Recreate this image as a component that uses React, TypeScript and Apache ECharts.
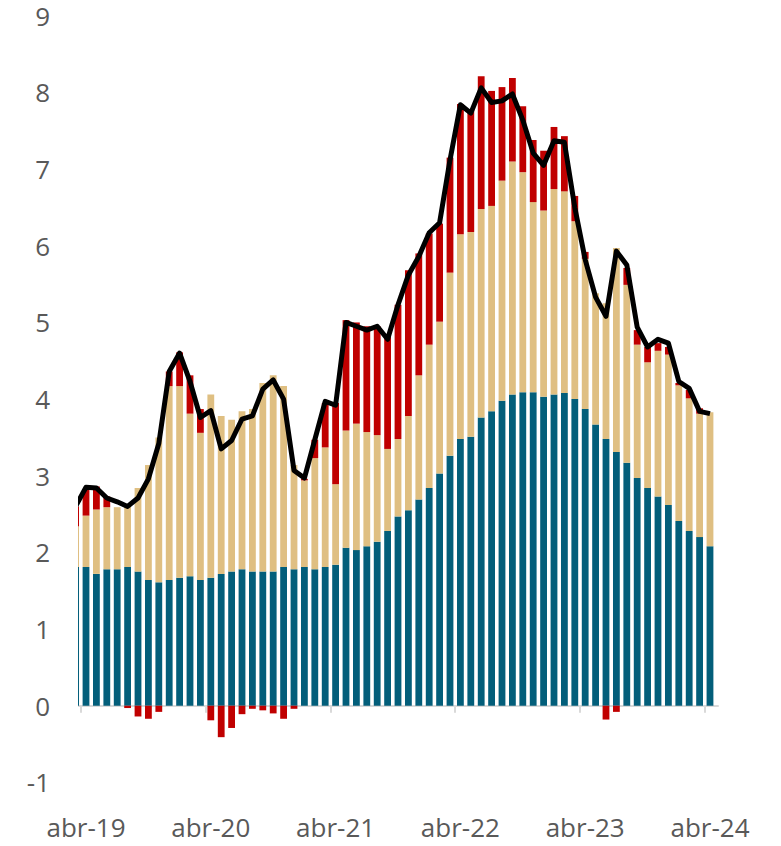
import React, { useEffect, useRef } from "react";
import * as echarts from "echarts";

const categories = [
  "mar-19", "abr-19", "may-19", "jun-19", "jul-19", "ago-19", "sep-19", "oct-19", "nov-19", "dic-19",
  "ene-20", "feb-20", "mar-20", "abr-20", "may-20", "jun-20", "jul-20", "ago-20", "sep-20", "oct-20", "nov-20", "dic-20",
  "ene-21", "feb-21", "mar-21", "abr-21", "may-21", "jun-21", "jul-21", "ago-21", "sep-21", "oct-21", "nov-21", "dic-21",
  "ene-22", "feb-22", "mar-22", "abr-22", "may-22", "jun-22", "jul-22", "ago-22", "sep-22", "oct-22", "nov-22", "dic-22",
  "ene-23", "feb-23", "mar-23", "abr-23", "may-23", "jun-23", "jul-23", "ago-23", "sep-23", "oct-23", "nov-23", "dic-23",
  "ene-24", "feb-24", "mar-24", "abr-24",
];

const tickLabels = ["abr-19", "abr-20", "abr-21", "abr-22", "abr-23", "abr-24"];

const blueValues = [
  1.81, 1.81, 1.72, 1.78, 1.78, 1.81, 1.75, 1.64, 1.61, 1.64,
  1.67, 1.69, 1.64, 1.67, 1.72, 1.75, 1.78, 1.75, 1.75, 1.75, 1.81, 1.78,
  1.81, 1.78, 1.81, 1.84, 2.06, 2.03, 2.08, 2.14, 2.28, 2.47, 2.55, 2.69,
  2.84, 3.03, 3.26, 3.48, 3.51, 3.76, 3.84, 3.98, 4.06, 4.09, 4.09, 4.03,
  4.06, 4.08, 4.0, 3.87, 3.67, 3.48, 3.31, 3.17, 2.97, 2.84, 2.73, 2.62,
  2.41, 2.28, 2.2, 2.08,
];

const tanValues = [
  0.53, 0.67, 0.84, 0.81, 0.81, 0.79, 1.09, 1.5, 1.89, 2.53,
  2.5, 2.12, 1.92, 2.39, 2.06, 1.98, 2.06, 2.12, 2.46, 2.56, 2.36, 1.36,
  1.13, 1.45, 1.56, 1.05, 1.53, 1.65, 1.49, 1.39, 1.07, 1.01, 1.23, 1.62,
  1.87, 1.98, 2.39, 2.67, 2.67, 2.72, 2.68, 2.87, 3.04, 2.87, 2.48, 2.43,
  2.68, 2.63, 2.32, 1.96, 1.71, 1.77, 2.66, 2.32, 1.74, 1.64, 1.9, 1.96,
  1.77, 1.73, 1.61, 1.75,
];

const redValues = [
  0.26, 0.34, 0.3, 0.14, 0.0, -0.03, -0.14, -0.17, -0.08, 0.19,
  0.44, 0.5, 0.31, -0.19, -0.41, -0.29, -0.11, -0.04, -0.06, -0.1, -0.17, -0.04,
  0.02, 0.24, 0.58, 1.06, 1.44, 1.32, 1.38, 1.42, 1.5, 1.75, 1.9, 1.59,
  1.45, 1.28, 1.5, 1.7, 1.6, 1.73, 1.5, 1.22, 1.09, 0.86, 0.81, 0.78,
  0.81, 0.72, 0.33, 0.09, 0.0, -0.18, -0.08, 0.22, 0.19, 0.2, 0.1, 0.1,
  0.03, 0.11, 0.07, 0.0,
];

const lineValues = [
  2.6, 2.85, 2.84, 2.71, 2.66, 2.6, 2.71, 2.96, 3.42, 4.36,
  4.6, 4.23, 3.76, 3.85, 3.35, 3.46, 3.74, 3.78, 4.13, 4.25, 4.0, 3.07,
  2.97, 3.47, 3.97, 3.92, 5.0, 4.95, 4.9, 4.95, 4.78, 5.23, 5.62, 5.86,
  6.17, 6.3, 7.12, 7.84, 7.73, 8.06, 7.87, 7.89, 7.98, 7.64, 7.21, 7.05,
  7.37, 7.35, 6.5, 5.82, 5.33, 5.08, 5.93, 5.75, 4.94, 4.68, 4.78, 4.73,
  4.23, 4.14, 3.84, 3.81,
];

const BLUE = "#035E7A";
const TAN = "#DFBF82";
const RED = "#C00000";
const TEXT = "#595959";
const AXIS = "#D9D9D9";
const FONT = "Open Sans";

export default function App() {
  const ref = useRef<HTMLDivElement>(null);

  useEffect(() => {
    if (!ref.current) return;
    const chart = echarts.init(ref.current, undefined, { renderer: "svg" });
    const labelPos = tickLabels.map((l) => categories.indexOf(l));
    const tickPos = labelPos.map((p) => p - 0.5);
    // value first, category index second; encode maps them to y / x so that
    // stacking happens on the value dimension
    const pairs = (arr: number[]) => arr.map((v, i) => [v, i]);
    const enc = { x: 1, y: 0 };

    const barCommon = {
      type: "bar" as const,
      stack: "total",
      barWidth: 6.8,
      clip: true,
      encode: enc,
    };

    const gridLeft = 78;
    const gridTop = 15.8;
    const gridBottom = 63.6;

    chart.setOption({
      animation: false,
      grid: {
        left: gridLeft,
        right: 63,
        top: gridTop,
        bottom: gridBottom,
        outerBoundsMode: "none",
        containLabel: false,
      },
      xAxis: {
        type: "value",
        min: 0.23,
        max: 61.77,
        axisLine: { show: true, onZero: true, lineStyle: { color: AXIS, width: 2 } },
        axisTick: {
          show: true,
          customValues: tickPos,
          length: 7,
          lineStyle: { color: AXIS, width: 2 },
        },
        axisLabel: {
          customValues: labelPos,
          formatter: (v: number) => categories[Math.round(v)] ?? "",
          margin: 32,
          color: TEXT,
          fontSize: 26,
          lineHeight: 26,
          fontFamily: FONT,
        },
        splitLine: { show: false },
      },
      yAxis: {
        type: "value",
        min: -1,
        max: 9,
        interval: 1,
        axisLine: { show: false },
        axisTick: { show: false },
        splitLine: { show: false },
        axisLabel: { margin: 28, color: TEXT, fontSize: 26, lineHeight: 26, fontFamily: FONT },
      },
      graphic: [
        {
          // masks the part of the first (partial) period that lies left of the plot area
          type: "rect",
          z: 100,
          silent: true,
          shape: { x: 56, y: 0, width: gridLeft - 56, height: 846 - gridBottom - 60 },
          style: { fill: "#ffffff" },
        },
      ],
      series: [
        { ...barCommon, name: "blue", data: pairs(blueValues), itemStyle: { color: BLUE } },
        { ...barCommon, name: "tan", data: pairs(tanValues), itemStyle: { color: TAN } },
        { ...barCommon, name: "red", data: pairs(redValues), itemStyle: { color: RED } },
        {
          type: "line",
          name: "total",
          data: pairs(lineValues),
          encode: enc,
          symbol: "none",
          clip: true,
          z: 5,
          lineStyle: { color: "#000000", width: 5, join: "round", cap: "butt" },
        },
      ],
    });
    return () => chart.dispose();
  }, []);

  return (
    <div
      ref={ref}
      style={{ position: "fixed", left: 0, top: 0, width: 781, height: 846, background: "#fff" }}
    />
  );
}
